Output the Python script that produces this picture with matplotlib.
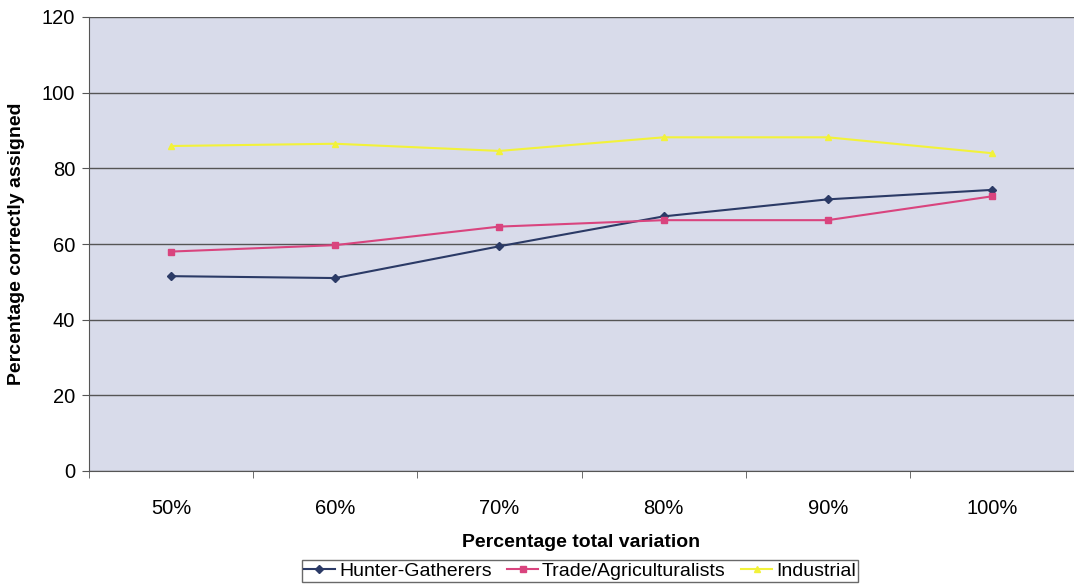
import matplotlib.pyplot as plt
import numpy as np

categories = ["50%", "60%", "70%", "80%", "90%", "100%"]
hunter = [51.5, 51.0, 59.4, 67.3, 71.8, 74.3]
trade = [58.0, 59.7, 64.6, 66.3, 66.3, 72.6]
industrial = [85.9, 86.5, 84.6, 88.2, 88.2, 84.0]

plt.rcParams['font.family'] = ['Liberation Sans', 'DejaVu Sans']

fig = plt.figure(figsize=(10.74, 5.86), dpi=100)
ax = fig.add_axes([89 / 1074, 1 - 471 / 586, 1 - 89 / 1074, (471 - 17) / 586])
ax.set_facecolor('#d8dbea')

x = np.arange(len(categories))
ax.plot(x, hunter, color='#2b3a66', marker='D', markersize=4, lw=1.5, label='Hunter-Gatherers')
ax.plot(x, trade, color='#d9447e', marker='s', markersize=5, lw=1.5, label='Trade/Agriculturalists')
ax.plot(x, industrial, color='#f2f23a', marker='^', markersize=5, lw=1.5, label='Industrial')

ax.set_xlim(-0.5, len(categories) - 0.5)
ax.set_ylim(0, 120)
ax.set_yticks(range(0, 121, 20))
ax.set_xticks(x)
ax.set_xticklabels(categories)
ax.set_xticks(np.arange(-0.5, len(categories), 1), minor=True)
ax.tick_params(axis='x', which='major', length=0, labelsize=14.5, pad=20)
ax.tick_params(axis='x', which='minor', length=5, color='#555555')
ax.tick_params(axis='y', length=5, color='#555555', labelsize=14.5, pad=5)
ax.yaxis.grid(True, color='#555555', lw=1)
ax.set_axisbelow(True)
for s in ['top', 'right']:
    ax.spines[s].set_visible(False)
for s in ['left', 'bottom']:
    ax.spines[s].set_color('#555555')

ax.set_xlabel("Percentage total variation", fontsize=14, fontweight='bold', labelpad=12)
ax.set_ylabel("Percentage correctly assigned", fontsize=14, fontweight='bold', labelpad=12)

leg = fig.legend(loc='center', bbox_to_anchor=(580 / 1074, 1 - 571 / 586), ncol=3,
                 frameon=True, fancybox=False, edgecolor='#444444', fontsize=14,
                 handlelength=1.6, handletextpad=0.2, columnspacing=0.8,
                 borderpad=0.1)
leg.get_frame().set_linewidth(1)

fig.savefig("out.png", dpi=100)
